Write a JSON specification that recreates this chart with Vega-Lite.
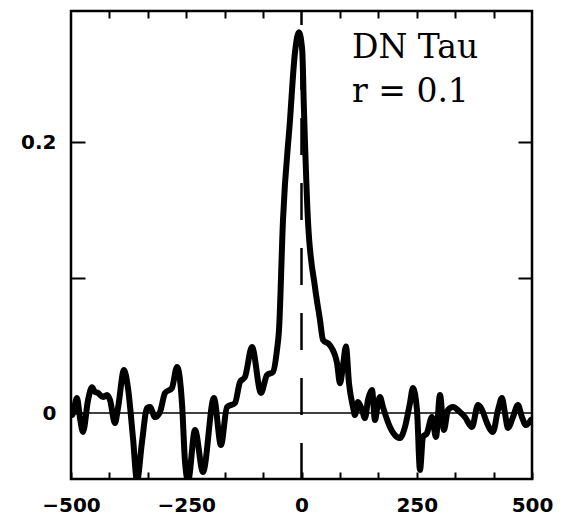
{
  "$schema": "https://vega.github.io/schema/vega-lite/v6.json",
  "width": 461,
  "height": 468,
  "autosize": {"type": "none"},
  "padding": {"left": 71, "top": 11, "right": 32, "bottom": 39},
  "background": "white",
  "config": {
    "view": {"stroke": "black", "strokeWidth": 2.5},
    "axis": {"domain": false, "grid": false, "tickColor": "black", "tickWidth": 2, "labelColor": "black", "labelFont": "DejaVu Sans", "labelFontWeight": "bold", "labelFontSize": 20, "title": null}
  },
  "datasets": {
    "curve": [
      {"v": -499, "c": 0.000}, {"v": -497.8, "c": -0.0015}, {"v": -487, "c": 0.011}, {"v": -480.5, "c": -0.0037},
      {"v": -474, "c": -0.014}, {"v": -463, "c": 0.0096}, {"v": -454.5, "c": 0.019}, {"v": -448, "c": 0.0155},
      {"v": -441.4, "c": 0.0148}, {"v": -430.6, "c": 0.0118}, {"v": -421.9, "c": 0.0133}, {"v": -415.4, "c": 0.0096},
      {"v": -404.6, "c": -0.0074}, {"v": -398, "c": 0.0037}, {"v": -385, "c": 0.0317}, {"v": -376.4, "c": 0.0185},
      {"v": -365.5, "c": -0.0185}, {"v": -356.8, "c": -0.05}, {"v": -346, "c": -0.0214}, {"v": -335, "c": 0.0037},
      {"v": -328.6, "c": 0.0044}, {"v": -317.8, "c": -0.003}, {"v": -307, "c": 0.0007}, {"v": -296, "c": 0.0148},
      {"v": -281, "c": 0.0185}, {"v": -270, "c": 0.034}, {"v": -259, "c": 0.0059}, {"v": -252.7, "c": -0.036},
      {"v": -246, "c": -0.05}, {"v": -231, "c": -0.0125}, {"v": -213.7, "c": -0.0435}, {"v": -190, "c": 0.011},
      {"v": -174.7, "c": -0.0236}, {"v": -161.6, "c": 0.0044}, {"v": -144.3, "c": 0.0074}, {"v": -133.4, "c": 0.0229},
      {"v": -122.6, "c": 0.0266}, {"v": -107.4, "c": 0.0487}, {"v": -87.9, "c": 0.0148}, {"v": -74.9, "c": 0.028},
      {"v": -61.9, "c": 0.0303}, {"v": -53.2, "c": 0.0465}, {"v": -48.8, "c": 0.0613}, {"v": -40.2, "c": 0.142},
      {"v": -25, "c": 0.216}, {"v": -14.2, "c": 0.266}, {"v": -5.5, "c": 0.281}, {"v": 1.5, "c": 0.268},
      {"v": 5.3, "c": 0.224}, {"v": 14, "c": 0.142}, {"v": 29.2, "c": 0.093}, {"v": 40, "c": 0.069},
      {"v": 46.6, "c": 0.054}, {"v": 61.8, "c": 0.05}, {"v": 77, "c": 0.037}, {"v": 83.5, "c": 0.022},
      {"v": 90, "c": 0.035}, {"v": 96.5, "c": 0.049}, {"v": 103, "c": 0.022}, {"v": 111.7, "c": 0.0044},
      {"v": 116, "c": -0.0015}, {"v": 122.5, "c": 0.0081}, {"v": 131.2, "c": 0.0022}, {"v": 137.7, "c": -0.0037},
      {"v": 144.2, "c": 0.0096}, {"v": 152.9, "c": 0.017}, {"v": 159.4, "c": -0.0052}, {"v": 165.9, "c": 0.0074},
      {"v": 170.2, "c": 0.0118}, {"v": 176.7, "c": 0.0044}, {"v": 191.9, "c": -0.0103}, {"v": 207, "c": -0.0177},
      {"v": 213.6, "c": -0.0185}, {"v": 224.4, "c": -0.0103}, {"v": 235.3, "c": 0.0074}, {"v": 241.8, "c": 0.0185},
      {"v": 250.5, "c": 0.0022}, {"v": 257, "c": -0.042}, {"v": 263.5, "c": -0.0177}, {"v": 272.2, "c": -0.0148},
      {"v": 283, "c": -0.003}, {"v": 291.7, "c": -0.0177}, {"v": 300.4, "c": 0.0133}, {"v": 309, "c": -0.0125},
      {"v": 317.7, "c": 0.0022}, {"v": 328.6, "c": 0.0044}, {"v": 343.7, "c": 0.0007}, {"v": 354.6, "c": -0.003},
      {"v": 369.8, "c": -0.0103}, {"v": 382.8, "c": 0.0059}, {"v": 393.6, "c": 0.0007}, {"v": 402.3, "c": -0.0074},
      {"v": 415.3, "c": -0.014}, {"v": 426.2, "c": 0.0022}, {"v": 434.8, "c": 0.011}, {"v": 441.3, "c": 0.0},
      {"v": 447.8, "c": -0.011}, {"v": 458.7, "c": -0.003}, {"v": 469.5, "c": 0.0059}, {"v": 478.2, "c": -0.003},
      {"v": 486.9, "c": -0.0089}, {"v": 497.7, "c": -0.005}
    ],
    "labels": [
      {"v": 109.5, "c": 0.262, "t": "DN Tau"},
      {"v": 109.5, "c": 0.2295, "t": "r = 0.1"}
    ]
  },
  "resolve": {"axis": {"x": "independent", "y": "independent"}},
  "layer": [
    {
      "data": {"values": [{"c": 0}]},
      "mark": {"type": "rule", "color": "black", "strokeWidth": 1.5},
      "encoding": {
        "y": {"field": "c", "type": "quantitative", "scale": {"domain": [-0.0487, 0.2967], "nice": false, "zero": false}, "axis": null}
      }
    },
    {
      "data": {"values": [{"v": 0}]},
      "mark": {"type": "rule", "color": "black", "strokeWidth": 2.5, "strokeDash": [37, 28], "strokeDashOffset": 23},
      "encoding": {
        "x": {"field": "v", "type": "quantitative", "scale": {"domain": [-500, 500], "nice": false, "zero": false}, "axis": null}
      }
    },
    {
      "data": {"name": "curve"},
      "mark": {"type": "line", "color": "black", "strokeWidth": 6, "interpolate": "monotone", "strokeJoin": "round", "strokeCap": "round", "clip": true},
      "encoding": {
        "x": {"field": "v", "type": "quantitative", "scale": {"domain": [-500, 500], "nice": false, "zero": false},
          "axis": {"orient": "bottom", "values": [-500, -416.667, -333.333, -250, -166.667, -83.333, 0, 83.333, 166.667, 250, 333.333, 416.667, 500],
            "tickSize": -7, "labelPadding": 23, "labelFlush": false,
            "labelExpr": "indexof([-500, -250, 0, 250, 500], datum.value) >= 0 ? datum.label : ''"}},
        "y": {"field": "c", "type": "quantitative", "scale": {"domain": [-0.0487, 0.2967], "nice": false, "zero": false},
          "axis": {"orient": "left", "values": [0, 0.1, 0.2], "tickSize": -14, "labelPadding": 29, "labelFlush": false,
            "labelExpr": "datum.value == 0.1 ? '' : (datum.value == 0 ? '0' : '0.2')"}}
      }
    },
    {
      "data": {"name": "labels"},
      "mark": {"type": "text", "font": "DejaVu Serif", "fontSize": 33, "align": "left", "baseline": "alphabetic", "color": "black"},
      "encoding": {
        "x": {"field": "v", "type": "quantitative", "scale": {"domain": [-500, 500], "nice": false, "zero": false},
          "axis": {"orient": "top", "values": [-416.667, -333.333, -250, -166.667, -83.333, 83.333, 166.667, 250, 333.333, 416.667], "tickSize": -7, "labels": false}},
        "y": {"field": "c", "type": "quantitative", "scale": {"domain": [-0.0487, 0.2967], "nice": false, "zero": false},
          "axis": {"orient": "right", "values": [0.1, 0.2], "tickSize": -14, "labels": false}},
        "text": {"field": "t"}
      }
    }
  ]
}
